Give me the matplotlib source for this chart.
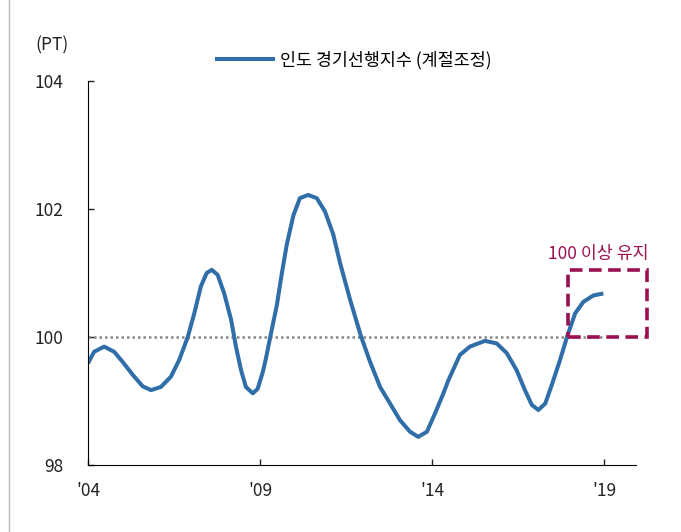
import matplotlib.pyplot as plt
from matplotlib.patches import Rectangle
from matplotlib.lines import Line2D

plt.rcParams['font.family'] = ['Noto Sans CJK KR', 'DejaVu Sans']

# India composite leading indicator (seasonally adjusted)
years = [2004.0, 2004.18, 2004.47, 2004.76, 2005.01, 2005.3, 2005.59, 2005.83,
         2006.12, 2006.41, 2006.65, 2006.9, 2007.09, 2007.28, 2007.45, 2007.6,
         2007.77, 2007.96, 2008.16, 2008.3, 2008.45, 2008.59, 2008.79, 2008.93,
         2009.08, 2009.17, 2009.29, 2009.49, 2009.63, 2009.78, 2009.97, 2010.16,
         2010.4, 2010.65, 2010.89, 2011.13, 2011.33, 2011.62, 2011.93, 2012.2,
         2012.49, 2012.78, 2013.07, 2013.36, 2013.6, 2013.85, 2014.09, 2014.33,
         2014.48, 2014.81, 2015.1, 2015.54, 2015.88, 2016.17, 2016.46, 2016.7,
         2016.9, 2017.09, 2017.29, 2017.48, 2017.72, 2017.94, 2018.16, 2018.4,
         2018.69, 2018.98]
values = [99.59, 99.77, 99.85, 99.77, 99.61, 99.41, 99.23, 99.17,
          99.22, 99.38, 99.64, 100.0, 100.37, 100.79, 101.0, 101.05,
          100.97, 100.68, 100.27, 99.85, 99.48, 99.22, 99.12, 99.19,
          99.45, 99.66, 99.98, 100.5, 100.98, 101.45, 101.9, 102.17,
          102.22, 102.17, 101.96, 101.6, 101.15, 100.58, 100.02, 99.61,
          99.22, 98.96, 98.7, 98.52, 98.44, 98.52, 98.81, 99.12,
          99.33, 99.72, 99.85, 99.94, 99.9, 99.75, 99.48, 99.17,
          98.94, 98.86, 98.96, 99.25, 99.64, 100.03, 100.37, 100.55,
          100.65, 100.68]

xticks = [2004, 2009, 2014, 2019]
xtick_labels = ["'04", "'09", "'14", "'19"]
yticks = [98, 100, 102, 104]

legend_label = '인도 경기선행지수 (계절조정)'
note = '100 이상 유지'
box_x = [2017.95, 2020.25]
box_y = [100.0, 101.05]

blue = '#2f6ea8'
berry = '#9b1050'

fig = plt.figure(figsize=(6.81, 5.32), dpi=100)
ax = fig.add_axes([0.1292, 0.1259, 0.8048, 0.7218])

ax.hlines(100, years[0], xticks[-1], colors='#888888', linestyles=(0, (1, 1.2)),
          linewidth=1.8)
ax.plot(years, values, color=blue, linewidth=2.9, solid_capstyle='butt',
        solid_joinstyle='round')

rect = Rectangle((box_x[0], box_y[0]), box_x[1] - box_x[0], box_y[1] - box_y[0],
                 fill=False, edgecolor=berry, linewidth=2.6,
                 linestyle=(0, (3.5, 1.8)), clip_on=False, zorder=4)
ax.add_patch(rect)
ax.text(2018.83, 101.3, note, color=berry, fontsize=12.5, ha='center', va='center')

ax.set_xlim(2004, 2019.93)
ax.set_ylim(98, 104)
ax.set_xticks(xticks)
ax.set_xticklabels(xtick_labels)
ax.set_yticks(yticks)
ax.spines['top'].set_visible(False)
ax.spines['right'].set_visible(False)
ax.tick_params(axis='both', direction='in', length=4, width=1, labelsize=12.5,
               colors='#222222')
ax.tick_params(axis='y', pad=18)
ax.tick_params(axis='x', pad=12)

handle = Line2D([], [], color=blue, linewidth=2.9)
fig.legend([handle], [legend_label], loc='center', bbox_to_anchor=(0.52, 0.887),
           frameon=False, fontsize=12.5, handlelength=3.2, handletextpad=0.4)

fig.text(35 / 681, 0.915, '(PT)', fontsize=12.5, ha='left', va='center', color='#222222')
fig.add_artist(Line2D([9 / 681, 9 / 681], [0, 1], color='#bbbbbb', linewidth=1))

fig.savefig('out.png', dpi=100)
